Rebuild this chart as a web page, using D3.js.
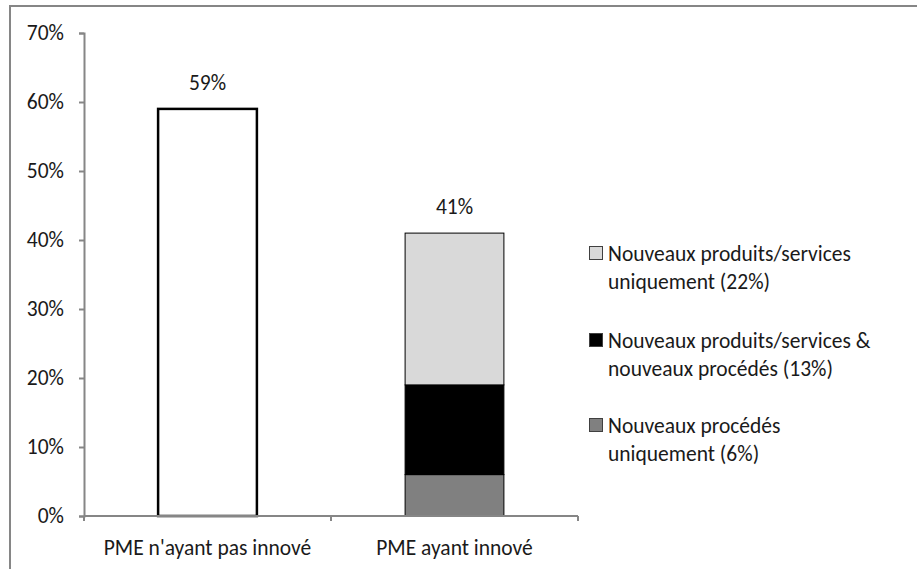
<!DOCTYPE html>
<html><head><meta charset="utf-8">
<script src="https://cdn.jsdelivr.net/npm/d3@7"></script>
<style>
body{margin:0;background:#fff;}
text{font-family:Carlito,Lato,"Open Sans",sans-serif;fill:#1a1a1a;}
</style></head>
<body><svg id="c" width="917" height="569"></svg>
<script>
const categories = ["PME n'ayant pas innové", "PME ayant innové"];
const totals = [59, 41];
const totalLabels = ["59%", "41%"];
const seriesNames = ["Nouveaux procédés uniquement (6%)", "Nouveaux produits/services & nouveaux procédés (13%)", "Nouveaux produits/services uniquement (22%)"];
const seriesValues = [6, 13, 22];
const seriesColors = ["#808080", "#000000", "#d9d9d9"];
const legendLines = [
  ["Nouveaux produits/services", "uniquement (22%)"],
  ["Nouveaux produits/services &", "nouveaux procédés  (13%)"],
  ["Nouveaux procédés", "uniquement (6%)"]
];
const legendColors = ["#d9d9d9", "#000000", "#808080"];
const yTicks = [0,10,20,30,40,50,60,70];

const FS = 21.5;
const svg = d3.select("#c");
svg.append("rect").attr("x",10).attr("y",6).attr("width",1000).attr("height",700)
  .attr("fill","#fff").attr("stroke","#868686").attr("stroke-width",2);

const x0 = 84, x1 = 578, yTop = 33, yBot = 516;
const y = d3.scaleLinear().domain([0,70]).range([yBot, yTop]);
const x = d3.scaleBand().domain(categories).range([x0, x1]).padding(0);
const bw = x.bandwidth()*0.4;

// bar 1 (outline)
svg.append("rect").attr("x", x(categories[0])+x.bandwidth()/2-bw/2).attr("y", y(totals[0]))
  .attr("width", bw).attr("height", y(0)-y(totals[0]))
  .attr("fill","#fff").attr("stroke","#000").attr("stroke-width",2.5);

// stacked bar 2
let cum = 0;
seriesValues.forEach((v,i)=>{
  svg.append("rect").attr("x", x(categories[1])+x.bandwidth()/2-bw/2).attr("y", y(cum+v))
    .attr("width", bw).attr("height", y(cum)-y(cum+v))
    .attr("fill", seriesColors[i]).attr("stroke","#000").attr("stroke-width",1);
  cum += v;
});

// y axis
const ya = svg.append("g").attr("transform",`translate(${x0},0)`)
  .call(d3.axisLeft(y).tickValues(yTicks).tickFormat(d=>d+"%").tickSize(5).tickPadding(15));
ya.select(".domain").attr("stroke","#868686").attr("stroke-width",2);
ya.selectAll(".tick line").attr("stroke","#868686").attr("stroke-width",2);
ya.selectAll("text").attr("font-size",FS).attr("fill","#1a1a1a").style("font-family","Carlito,Lato,sans-serif");

// total labels
categories.forEach((c,i)=>{
  svg.append("text").attr("x", x(c)+x.bandwidth()/2).attr("y", y(totals[i])-19)
    .attr("text-anchor","middle").attr("font-size",FS).text(totalLabels[i]);
});

// x axis
const xa = svg.append("g").attr("transform",`translate(0,${yBot})`);
xa.append("line").attr("x1",x0).attr("x2",x1).attr("stroke","#868686").attr("stroke-width",2);
[x0, x0 + x.bandwidth(), x1].forEach(t=>{
  xa.append("line").attr("x1",t).attr("x2",t).attr("y1",0).attr("y2",5).attr("stroke","#868686").attr("stroke-width",2);
});
categories.forEach(c=>{
  xa.append("text").attr("x", x(c)+x.bandwidth()/2).attr("y", 39)
    .attr("text-anchor","middle").attr("font-size",FS).text(c);
});

// legend
const legY = [253, 340, 425];
legendLines.forEach((lines,i)=>{
  const g = svg.append("g").attr("transform",`translate(589,${legY[i]})`);
  g.append("rect").attr("x",0.5).attr("y",-6.5).attr("width",13).attr("height",13)
    .attr("fill",legendColors[i]).attr("stroke","#404040").attr("stroke-width",1);
  lines.forEach((l,j)=>{
    g.append("text").attr("x",19).attr("y", j*28 + 8).attr("font-size",FS).text(l);
  });
});
</script></body></html>
